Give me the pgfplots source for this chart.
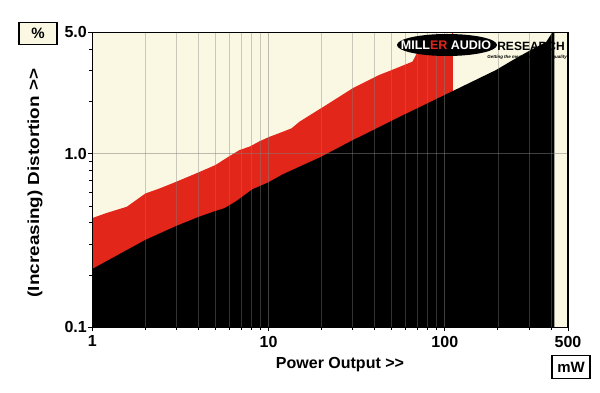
\documentclass[border=0pt]{standalone}
\usepackage{fontspec}
\setmainfont{Liberation Sans}
\usepackage{pgfplots}
\pgfplotsset{compat=1.18}
\definecolor{cream}{HTML}{FAF8E2}
\definecolor{mred}{HTML}{E2261A}
\newcommand{\dgt}{>{}>}
\begin{document}
\begin{tikzpicture}
\useasboundingbox (0,0) rectangle (600pt,393pt);
\begin{axis}[
  at={(92.3pt,65.6pt)}, anchor=south west,
  width=475.7pt, height=295.1pt, scale only axis,
  xmode=log, ymode=log,
  xmin=1, xmax=500, ymin=0.1, ymax=5,
  axis background/.style={fill=cream},
  axis on top,
  axis line style={black, line width=1.3pt},
  xtick={1,10,100,500}, xticklabels={1,10,100,500},
  minor xtick={2,3,4,5,6,7,8,9,20,30,40,50,60,70,80,90,200,300,400},
  ytick={0.1,1,5}, yticklabels={0.1,1.0,5.0},
  minor ytick={0.2,0.3,0.4,0.5,0.6,0.7,0.8,0.9,2,3,4},
  xmajorgrids, xminorgrids, ymajorgrids,
  major grid style={color=gray, opacity=0.5, line width=0.8pt},
  minor grid style={color=gray, opacity=0.4, line width=0.6pt},
  tick align=outside, xtick pos=left, ytick pos=left,
  major tick length=4pt, minor tick length=3pt,
  every tick/.style={black, line width=0.8pt},
  /pgf/number format/assume math mode=true,
  tick label style={font=\fontsize{16}{16}\selectfont\bfseries},
  yticklabel style={xshift=2pt},
  xticklabel style={yshift=-1pt},
]
% red band (upper curve)
\addplot[fill=mred, draw=none] coordinates {
(1,0.1) (1,0.426) (1.2,0.455) (1.57,0.495) (2,0.59) (2.42,0.632) (3,0.69)
(4,0.78) (5,0.861) (6.02,0.97) (6.85,1.05) (7.83,1.10) (8.9,1.18) (10.1,1.25)
(12.35,1.35) (13.5,1.40) (15,1.53) (21.3,1.91) (30,2.38) (42.5,2.84)
(52.8,3.10) (65.6,3.39) (68.6,3.70) (72,4.1) (90,4.2) (108,4.4) (110,5) (111,5) (111,0.1)
};
% black area (lower curve)
\addplot[fill=black, draw=none] coordinates {
(1,0.1) (1,0.217) (2,0.319) (3,0.384) (4,0.432) (5,0.468) (5.6,0.485)
(6.5,0.53) (7.1,0.566) (8.1,0.624) (9.9,0.681) (12,0.76) (19.6,0.953)
(28.8,1.17) (55.4,1.63) (108.6,2.27) (195,3.03) (242,3.45) (300,3.9)
(376,4.4) (408,5) (418,5) (418,0.1)
};
\end{axis}
% logo
\fill[black] (447pt,348pt) ellipse (50pt and 11pt);
\node at (446pt,348pt) {\fontsize{12.5}{12}\selectfont\bfseries\color{white}MILL\textcolor{mred}{ER} AUDIO};
\node at (531pt,347pt) {\fontsize{12}{12}\selectfont\bfseries RESEARCH};
\node at (527pt,336pt) {\fontsize{4.5}{5}\selectfont\bfseries\itshape Getting the measure of sound quality};
% labels
\node[rotate=90] at (35pt,210pt) {\scalebox{1.18}[1]{\fontsize{16}{16}\selectfont\bfseries (Increasing) Distortion \dgt}};
\node at (340pt,28pt) {\fontsize{16}{16}\selectfont\bfseries Power Output \dgt};
\node[draw, line width=1.2pt, fill=cream, minimum width=38pt, minimum height=22pt, inner sep=0pt] at (38pt,359.5pt) {\fontsize{15}{15}\selectfont\bfseries\%};
\node[draw, line width=1.2pt, fill=white, minimum width=38pt, minimum height=23pt, inner sep=0pt] at (571pt,26pt) {\fontsize{15}{15}\selectfont\bfseries mW};
\end{tikzpicture}
\end{document}
